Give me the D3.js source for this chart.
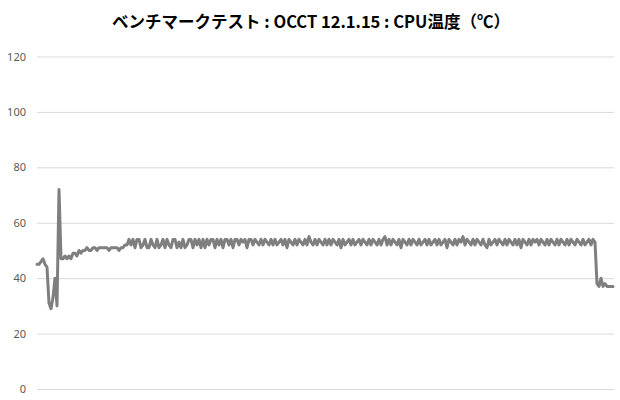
<!DOCTYPE html>
<meta charset="utf-8">
<style>
    body { margin: 0; background: #fff; }
    .title { font-family: "Noto Sans CJK JP", sans-serif; font-weight: bold; font-size: 16.5px; fill: #000; }
    .axis text { font-family: "Noto Sans", "Liberation Sans", sans-serif; font-size: 11px; fill: #595959; }
    .axis .domain { display: none; }
    .axis line { stroke: #d9d9d9; }
</style>
<body>
<script src="https://cdn.jsdelivr.net/npm/d3@7"></script>
<script>
    /* chart values (°C per sample) */
    var titleText = "ベンチマークテスト : OCCT 12.1.15 : CPU温度（℃）";
    var yTicks = [0, 20, 40, 60, 80, 100, 120];

    var idle = [45, 45, 46, 47, 45, 44, 31, 29, 33, 40, 30, 72, 47];
    var rampUp = [47, 48, 47, 48, 47, 49, 49, 48, 50, 49, 50, 50, 51, 50, 50, 51, 51,
        50, 51, 51, 51, 51, 51, 50, 51, 51, 51, 51, 50, 51, 51, 52, 52];
    var loadEarly = [54, 52, 54, 51, 54, 54, 51, 52, 54, 51, 51, 54, 52, 51, 54, 51, 52, 54, 51, 54,
        52, 51, 54, 54, 51, 53, 51, 54, 51, 52, 54, 54, 51, 54, 52, 54, 51, 54, 51, 54,
        52, 54, 54, 51, 54, 52, 54, 51, 54, 54, 52, 54, 51, 54, 54, 52, 54, 53, 54, 51, 54];
    var loadLate = [54, 52, 54, 53, 52, 54, 52, 54, 53, 52, 54, 52, 54, 52, 53, 54, 52, 54, 51, 54,
        53, 52, 54, 52, 54, 53, 52, 54, 52, 55, 53, 52, 54, 52, 54, 53, 52, 54, 52, 54,
        52, 54, 53, 52, 54, 51, 54, 52, 53, 54, 52, 54, 52, 53, 54, 52, 54, 53, 52, 54,
        52, 54, 53, 52, 54, 52, 54, 55, 52, 54, 52, 54, 53, 52, 54, 51, 54, 53, 52, 54,
        52, 54, 53, 52, 54, 52, 53, 54, 52, 54, 52, 53, 54, 52, 54, 52, 53, 54, 51, 54,
        53, 52, 54, 52, 54, 53, 55, 52, 54, 53, 52, 54, 52, 54, 53, 52, 54, 52, 51, 54,
        52, 53, 54, 52, 54, 53, 52, 54, 52, 54, 53, 52, 54, 52, 54, 51, 54, 53, 52, 54,
        52, 54, 53, 54, 52, 54, 53, 52, 54, 52, 54, 53, 52, 54, 52, 54, 53, 52, 54, 52,
        54, 53, 52, 54, 53, 52, 54, 52, 53, 54, 52, 54, 53];
    var coolDown = [38, 37, 40, 37, 38, 37, 37, 37, 37];

    var temps = idle.concat(rampUp, loadEarly, loadLate, coolDown);

    /* layout */
    var w = 620;
    var h = 400;
    var plotLeft = 37;
    var plotRight = 614;
    var plotTop = 56.5;
    var plotBottom = 389;

    var svg = d3.select("body").append("svg")
        .attr("width", w)
        .attr("height", h);

    svg.append("text")
        .attr("class", "title")
        .attr("x", 311)
        .attr("y", 28)
        .attr("text-anchor", "middle")
        .text(titleText);

    var xScale = d3.scaleLinear()
        .domain([0, temps.length - 1])
        .range([plotLeft, plotRight - 1]);

    var yScale = d3.scaleLinear()
        .domain([0, 120])
        .range([plotBottom, plotTop]);

    // gridlines + labels
    var yAxis = d3.axisLeft(yScale)
        .tickValues(yTicks)
        .tickSize(-(plotRight - plotLeft))
        .tickPadding(11);

    svg.append("g")
        .attr("class", "axis")
        .attr("transform", "translate(" + plotLeft + ",0)")
        .call(yAxis);

    var line = d3.line()
        .x(function (d, i) { return xScale(i); })
        .y(function (d) { return yScale(d); });

    svg.append("path")
        .datum(temps)
        .attr("d", line)
        .attr("fill", "none")
        .attr("stroke", "#7f7f7f")
        .attr("stroke-width", 3)
        .attr("stroke-linejoin", "round")
        .attr("stroke-linecap", "round");
</script>
</body>
